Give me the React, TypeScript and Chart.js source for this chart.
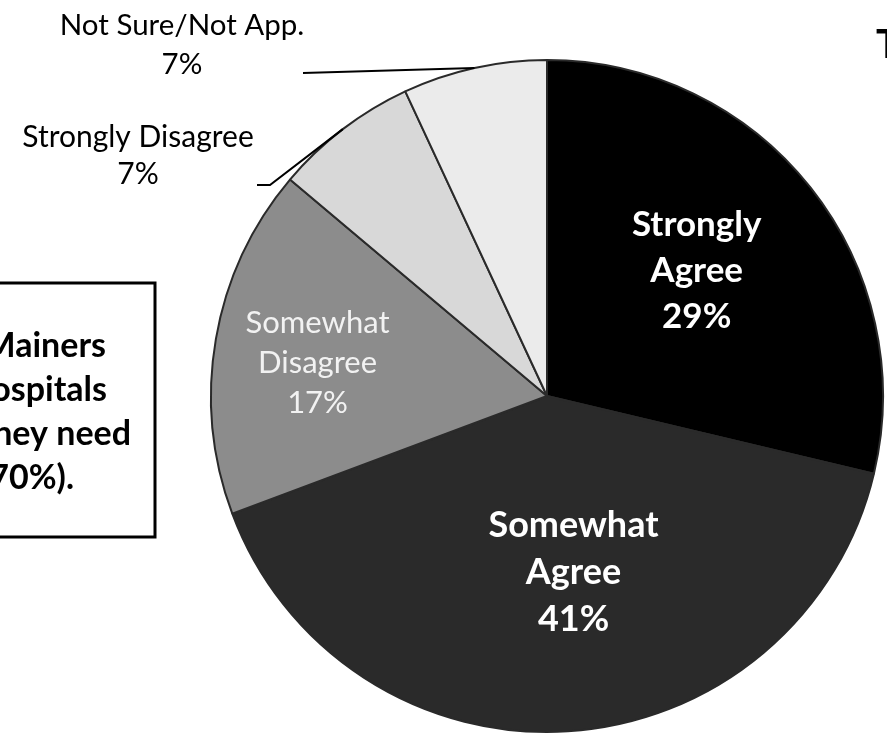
import React, { useEffect, useRef } from "react";
import { Chart, registerables } from "chart.js";

Chart.register(...registerables);

// ---- data ----
const categories = [
  "Strongly Agree",
  "Somewhat Agree",
  "Somewhat Disagree",
  "Strongly Disagree",
  "Not Sure/Not App.",
];
const shares = [29, 41, 17, 7, 7];
const labelLines = [
  ["Strongly", "Agree"],
  ["Somewhat", "Agree"],
  ["Somewhat", "Disagree"],
  ["Strongly Disagree"],
  ["Not Sure/Not App."],
];
const boxLines = ["Mainers", "hospitals", "they need", "(70%)."];
const titleText = "T";

// ---- styles ----
const sliceColors = ["#000000", "#2a2a2a", "#8c8c8c", "#d8d8d8", "#ebebeb"];
const FONT = "Lato, 'DejaVu Sans', sans-serif";

type Inside = { kind: "in"; frac: number; shift: number; size: number; weight: string; color: string; lh: number };
type Outside = {
  kind: "out";
  path: [number, number][];
  tx: number;
  baselines: number[];
  size: number;
};
const labelStyles: (Inside | Outside)[] = [
  { kind: "in", frac: 0.58, shift: -1.5, size: 35, weight: "bold", color: "#ffffff", lh: 46 },
  { kind: "in", frac: 0.53, shift: -5, size: 36, weight: "bold", color: "#ffffff", lh: 47 },
  { kind: "in", frac: 0.69, shift: -1.6, size: 31, weight: "normal", color: "#f2f2f2", lh: 40 },
  { kind: "out", path: [[-277, -211], [-290, -211]], tx: -409, baselines: [-249, -212], size: 30 },
  { kind: "out", path: [[-244, -323]], tx: -365, baselines: [-361, -322], size: 29.5 },
];

const labelPlugin = {
  id: "sliceLabels",
  afterDraw(chart: any) {
    const ctx = chart.ctx as CanvasRenderingContext2D;
    const meta = chart.getDatasetMeta(0);
    const ds = chart.data.datasets[0];
    ctx.save();
    meta.data.forEach((arc: any, i: number) => {
      const p = arc.getProps(["x", "y", "startAngle", "endAngle", "outerRadius"], true);
      const st = labelStyles[i];
      const lines = [...labelLines[i], `${ds.data[i]}%`];
      const mid = (p.startAngle + p.endAngle) / 2;
      if (st.kind === "in") {
        const a = mid + (st.shift * Math.PI) / 180;
        const cx = p.x + Math.cos(a) * p.outerRadius * st.frac;
        const cy = p.y + Math.sin(a) * p.outerRadius * st.frac;
        ctx.fillStyle = st.color;
        ctx.font = `${st.weight} ${st.size}px ${FONT}`;
        ctx.textAlign = "center";
        ctx.textBaseline = "middle";
        lines.forEach((t, k) => {
          ctx.fillText(t, cx, cy + (k - (lines.length - 1) / 2) * st.lh);
        });
      } else {
        const sx = p.x + Math.cos(mid) * p.outerRadius;
        const sy = p.y + Math.sin(mid) * p.outerRadius;
        ctx.strokeStyle = "#000";
        ctx.lineWidth = 2;
        ctx.beginPath();
        ctx.moveTo(sx, sy);
        st.path.forEach(([dx, dy]) => ctx.lineTo(p.x + dx, p.y + dy));
        ctx.stroke();
        ctx.fillStyle = "#000";
        ctx.font = `normal ${st.size}px ${FONT}`;
        ctx.textAlign = "center";
        ctx.textBaseline = "alphabetic";
        lines.forEach((t, k) => ctx.fillText(t, p.x + st.tx, p.y + st.baselines[k]));
      }
    });

    // cropped callout box on the left
    ctx.strokeStyle = "#000";
    ctx.lineWidth = 3;
    ctx.strokeRect(-10, 283, 165, 254);
    ctx.fillStyle = "#000";
    ctx.font = `bold 34px ${FONT}`;
    ctx.textAlign = "right";
    ctx.textBaseline = "alphabetic";
    const ends = [106, 107, 131, 74];
    boxLines.forEach((t, k) => ctx.fillText(t, ends[k], 357 + k * 44));

    // cropped title letter
    ctx.textAlign = "left";
    ctx.font = `bold 40px ${FONT}`;
    ctx.fillText(titleText, 876, 58);
    ctx.restore();
  },
};

export default function App() {
  const ref = useRef<HTMLCanvasElement | null>(null);
  useEffect(() => {
    if (!ref.current) return;
    const chart = new Chart(ref.current, {
      type: "pie",
      data: {
        labels: categories,
        datasets: [
          {
            data: shares,
            backgroundColor: sliceColors,
            borderColor: "#2a2a2a",
            borderWidth: 2,
          },
        ],
      },
      options: {
        animation: false,
        responsive: true,
        maintainAspectRatio: false,
        layout: { padding: { left: 210, top: 59, right: 3, bottom: 6 } },
        plugins: { legend: { display: false }, tooltip: { enabled: false } },
      },
      plugins: [labelPlugin],
    });
    return () => chart.destroy();
  }, []);
  return (
    <div style={{ position: "absolute", left: 0, top: 0, width: 887, height: 739, background: "#fff", overflow: "hidden" }}>
      <canvas ref={ref} />
    </div>
  );
}
